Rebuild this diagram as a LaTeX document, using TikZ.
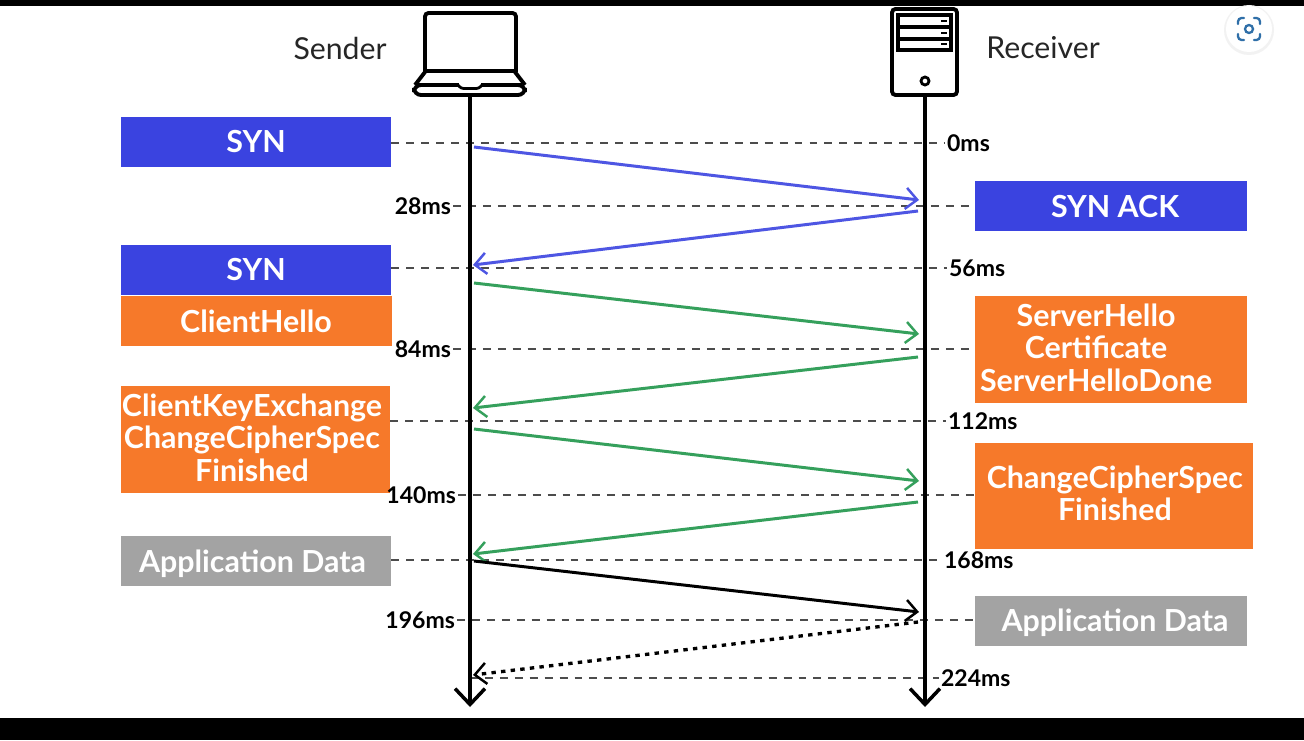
\documentclass[tikz,border=0pt]{standalone}
\usepackage{fontspec}
\setmainfont{Lato}
\usetikzlibrary{arrows.meta}
\definecolor{synblue}{HTML}{3A43E0}
\definecolor{tlsorange}{HTML}{F6792A}
\definecolor{datagray}{HTML}{A3A3A3}
\definecolor{linkgreen}{HTML}{35A05C}
\definecolor{lensblue}{HTML}{2F6FA8}
\begin{document}
\begin{tikzpicture}[
    x=0.02cm, y=-0.02cm,
    box/.style={inner sep=0pt, text=white, align=center, font=\fontsize{17.3}{18.4}\selectfont\bfseries},
    box text/.style={inner sep=0pt, text=white, align=center, font=\fontsize{17.3}{18.4}\selectfont\bfseries},
    syn box/.style={box, fill=synblue},
    tls box/.style={box, fill=tlsorange},
    data box/.style={box, fill=datagray},
    time/.style={inner sep=1pt, text height=9.6pt, text depth=0pt, font=\fontsize{13.1}{14}\selectfont\bfseries},
    name label/.style={inner sep=0pt, text=black!85, font=\fontsize{17.2}{18}\selectfont},
    level line/.style={dash pattern=on 4.5pt off 4pt, line width=1pt, black!70},
    life line/.style={line width=2.2pt, -{Straight Barb[length=9pt,width=17pt,line width=2pt]}},
    msg/.style={line width=1.7pt, -{Straight Barb[length=6.5pt,width=12pt,line width=1.4pt]}},
    icon/.style={line width=2.2pt, rounded corners=2pt}
    ]
    \useasboundingbox (0,0) rectangle (1304,740);
    \fill[white] (0,0) rectangle (1304,740);
    % screen bars
    \fill[black] (0,0) rectangle (1304,6);
    \fill[black] (0,718) rectangle (1304,740);

    % lens button
    \fill[black!5] (1249,30) circle (25);
    \fill[white] (1249,29) circle (23);
    \draw[lensblue, line width=1.3pt, line cap=round, rounded corners=2pt]
        (1238,24) -- (1238,18) -- (1244,18)
        (1254,18) -- (1260,18) -- (1260,24)
        (1260,34) -- (1260,40) -- (1254,40)
        (1244,40) -- (1238,40) -- (1238,34);
    \draw[lensblue, line width=1.3pt] (1249,29) circle (4);

    % laptop
    \draw[icon] (425,72) -- (425,13) -- (516,13) -- (516,72);
    \draw[icon] (425,71) -- (515,71);
    \draw[line width=2.2pt, line join=round] (425,72) -- (415,85) (525,85) -- (515,72);
    \draw[line width=2.2pt] (418,85) -- (459,85) (481,85) -- (522,85);
    \draw[line width=2.2pt, rounded corners=4pt] (420,85) -- (414,85) -- (414,95) -- (525,95) -- (525,85) -- (520,85);
    \draw[line width=1.6pt, rounded corners=1.5pt] (458,85) -- (461,88.5) -- (479,88.5) -- (482,85);

    % server
    \draw[icon] (892,9) rectangle (957,95);
    \draw[line width=1.8pt] (898,15) rectangle (951,50);
    \draw[line width=1.8pt] (898,27) -- (951,27);
    \draw[line width=1.8pt] (898,39) -- (951,39);
    \draw[line width=1.5pt] (941,21) -- (947,21);
    \draw[line width=1.5pt] (941,33) -- (947,33);
    \draw[line width=1.5pt] (941,44) -- (947,44);
    \draw[line width=1.6pt] (925,81) circle (4);

    % names
    \node[name label] (sendername) at (340,48) {Sender};
    \node[name label] (receivername) at (1043,48) {Receiver};

    % boxes, sender side
    \node[syn box, minimum width=270*0.02cm, minimum height=50*0.02cm] (syna) at (256,142) {SYN};
    \node[syn box, minimum width=270*0.02cm, minimum height=50*0.02cm] (synb) at (256,270) {SYN};
    \node[tls box, minimum width=271*0.02cm, minimum height=50*0.02cm] (clienthello) at (256,321) {ClientHello};
    \node[tls box, minimum width=269*0.02cm, minimum height=107*0.02cm,
        label={[box text, xshift=-2pt, yshift=1pt]center:ClientKeyExchange\\ChangeCipherSpec\\Finished}] (keyexchange) at (255.5,439.5) {};
    \node[data box, minimum width=270*0.02cm, minimum height=50*0.02cm,
        label={[box text, xshift=-2pt, yshift=-1.5pt]center:Application Data}] (dataa) at (256,561) {};

    % boxes, receiver side
    \node[syn box, minimum width=272*0.02cm, minimum height=50*0.02cm,
        label={[box text, xshift=2.3pt, yshift=-0.5pt]center:SYN ACK}] (synack) at (1111,206) {};
    \node[tls box, minimum width=272*0.02cm, minimum height=107*0.02cm,
        label={[box text, xshift=-8.5pt, yshift=1pt]center:ServerHello\\Certificate\\ServerHelloDone}] (serverhello) at (1111,349.5) {};
    \node[tls box, minimum width=278*0.02cm, minimum height=106*0.02cm,
        label={[box text, xshift=0.5pt, yshift=1.5pt]center:ChangeCipherSpec\\Finished}] (changecipher) at (1114,496) {};
    \node[data box, minimum width=272*0.02cm, minimum height=50*0.02cm,
        label={[box text, xshift=2.3pt, yshift=-1pt]center:Application Data}] (datab) at (1111,621) {};

    % times
    \node[time, anchor=west] (t0) at (945,143) {0ms};
    \node[time, anchor=east] (t28) at (453,206) {28ms};
    \node[time, anchor=west] (t56) at (947,268) {56ms};
    \node[time, anchor=east] (t84) at (453,349) {84ms};
    \node[time, anchor=west] (t112) at (946,421) {112ms};
    \node[time, anchor=east] (t140) at (458,495) {140ms};
    \node[time, anchor=west] (t168) at (942,560) {168ms};
    \node[time, anchor=east] (t196) at (457,620) {196ms};
    \node[time, anchor=west] (t224) at (939,678) {224ms};

    % life lines
    \coordinate (sender) at (470,95);
    \coordinate (senderend) at (470,707);
    \coordinate (receiver) at (925,95);
    \coordinate (receiverend) at (925,707);
    \coordinate (senderlast) at (470,678);

    % levels
    \draw[level line] (syna.east |- t0.west) -- (t0.west);
    \draw[level line] (t28.east) -- (synack.west |- t28.east);
    \draw[level line] (synb.east |- t56.west) -- (t56.west);
    \draw[level line] (t84.east) -- (serverhello.west |- t84.east);
    \draw[level line] (keyexchange.east |- t112.west) -- (t112.west);
    \draw[level line] (t140.east) -- (changecipher.west |- t140.east);
    \draw[level line] (dataa.east |- t168.west) -- (t168.west);
    \draw[level line] (t196.east) -- (datab.west |- t196.east);
    \draw[level line] (senderlast) -- (t224.west);

    \draw[life line] (sender) -- (senderend);
    \draw[life line] (receiver) -- (receiverend);

    % messages
    \coordinate (s1) at (474,147);
    \coordinate (r1) at (919,200);
    \coordinate (r2) at (918,211);
    \coordinate (s2) at (473,265);
    \coordinate (s3) at (474,283);
    \coordinate (r3) at (919,334);
    \coordinate (r4) at (918,357);
    \coordinate (s4) at (473,408);
    \coordinate (s5) at (474,429);
    \coordinate (r5) at (919,481);
    \coordinate (r6) at (918,502);
    \coordinate (s6) at (473,554);
    \coordinate (s7) at (474,561);
    \coordinate (r7) at (919,612);
    \coordinate (r8) at (918,622);
    \coordinate (s8) at (473,675);
    \draw[msg, synblue!90!white] (s1) -- (r1);
    \draw[msg, synblue!90!white] (r2) -- (s2);
    \draw[msg, linkgreen] (s3) -- (r3);
    \draw[msg, linkgreen] (r4) -- (s4);
    \draw[msg, linkgreen] (s5) -- (r5);
    \draw[msg, linkgreen] (r6) -- (s6);
    \draw[msg, black] (s7) -- (r7);
    \draw[msg, black, line width=1.9pt, dash pattern=on 2.5pt off 3pt] (r8) -- (s8);
\end{tikzpicture}
\end{document}
